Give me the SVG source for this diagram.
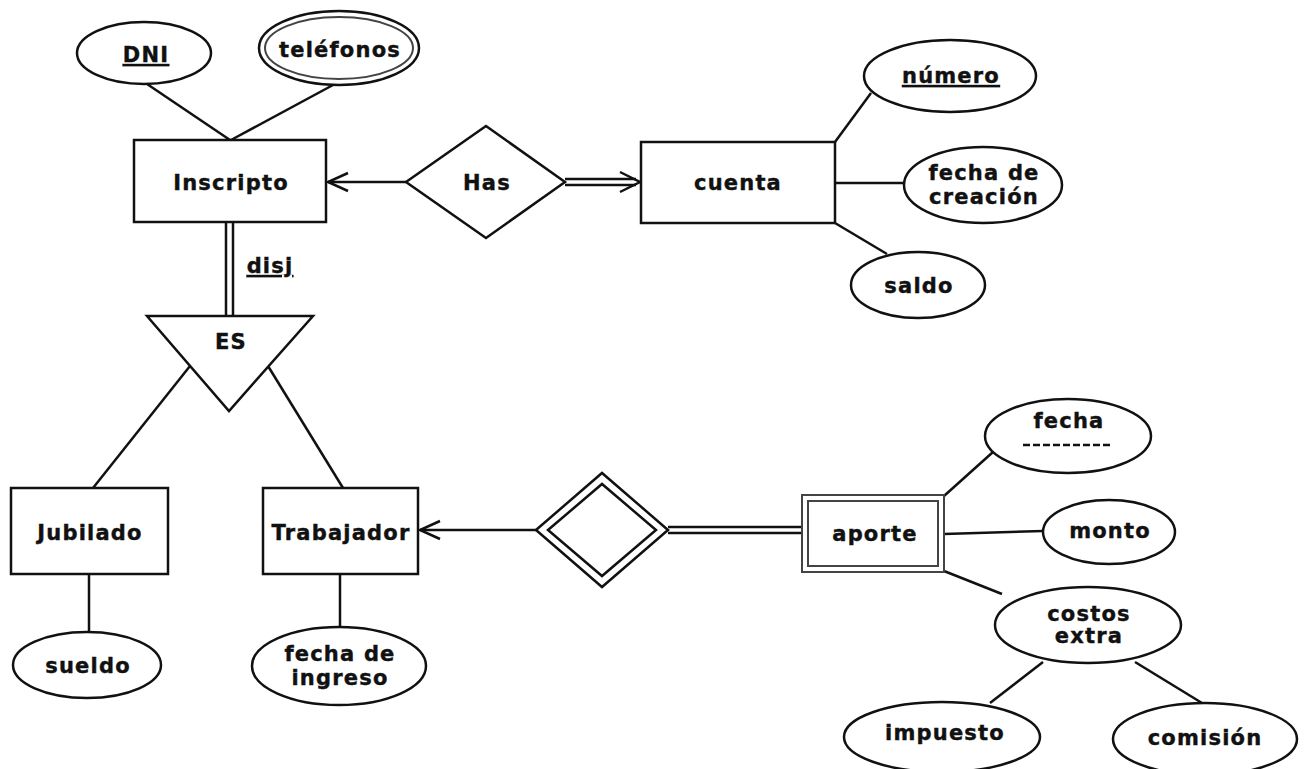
<svg xmlns="http://www.w3.org/2000/svg" width="1306" height="769" viewBox="0 0 1306 769">
<style>
.s{fill:#fff;stroke:#111;stroke-width:2.5}
.g{fill:none;stroke:#444;stroke-width:2}
.ln{fill:none;stroke:#111;stroke-width:2.5}
.arr{fill:none;stroke:#111;stroke-width:2.5;stroke-linejoin:miter}
.t{font-family:"DejaVu Sans",Verdana,sans-serif;font-weight:bold;font-size:21px;letter-spacing:1.2px;fill:#111;stroke:#111;stroke-width:0.4;text-anchor:middle}
.u{text-decoration:underline}
</style>
<rect width="1306" height="769" fill="#fff"/>
<g id="connectors">
  <path class="ln" d="M147,84 L230,140"/>
  <path class="ln" d="M333,85 L231,140"/>
  <path class="ln" d="M406,182 H328"/>
  <path class="arr" d="M348,173 L328,182 L348,191"/>
  <path class="ln" d="M565,179 H636 M565,185 H636"/>
  <path class="arr" d="M620,172 L640,182 L620,192"/>
  <path class="ln" d="M835,142 L871,93"/>
  <path class="ln" d="M835,183 H905"/>
  <path class="ln" d="M835,223 L887,254"/>
  <path class="ln" d="M226,222 V316 M233,222 V316"/>
  <path class="ln" d="M190,366 L93,488"/>
  <path class="ln" d="M268,366 L343,488"/>
  <path class="ln" d="M89,574 V632"/>
  <path class="ln" d="M340,574 V627"/>
  <path class="ln" d="M536,530 H420"/>
  <path class="arr" d="M440,521 L420,530 L440,539"/>
  <path class="ln" d="M668,527 H802 M668,533 H802"/>
  <path class="ln" d="M944,496 L993,452"/>
  <path class="ln" d="M944,534 L1043,531"/>
  <path class="ln" d="M944,571 L1002,594"/>
  <path class="ln" d="M1043,662 L990,703"/>
  <path class="ln" d="M1135,662 L1202,703"/>
</g>
<g id="DNI"><ellipse class="s" cx="144" cy="53" rx="67" ry="31"/><text class="t u" x="146" y="62">DNI</text></g>
<g id="telefonos"><ellipse class="s" cx="339" cy="48" rx="80" ry="37"/><ellipse class="g" cx="339" cy="48" rx="74" ry="31"/><text class="t" x="340" y="57">teléfonos</text></g>
<g id="Inscripto"><rect class="s" x="134" y="140" width="192" height="82"/><text class="t" x="231" y="190">Inscripto</text></g>
<g id="Has"><path class="s" d="M406,182 L486,126 L565,182 L486,238 Z"/><text class="t" x="487" y="190">Has</text></g>
<g id="cuenta"><rect class="s" x="641" y="142" width="194" height="81"/><text class="t" x="738" y="190">cuenta</text></g>
<g id="numero"><ellipse class="s" cx="950" cy="76" rx="86" ry="36"/><text class="t u" x="951" y="83">número</text></g>
<g id="fecha_creacion"><ellipse class="s" cx="983" cy="185" rx="79" ry="38"/><text class="t" x="984" y="180">fecha de</text><text class="t" x="984" y="204">creación</text></g>
<g id="saldo"><ellipse class="s" cx="918" cy="285" rx="67" ry="33"/><text class="t" x="919" y="293">saldo</text></g>
<g id="disj"><text class="t u" x="270" y="273">disj</text></g>
<g id="ES"><path class="s" d="M147,316 L313,316 L229,411 Z"/><text class="t" x="231" y="349">ES</text></g>
<g id="Jubilado"><rect class="s" x="11" y="488" width="157" height="86"/><text class="t" x="90" y="540">Jubilado</text></g>
<g id="Trabajador"><rect class="s" x="263" y="488" width="155" height="86"/><text class="t" x="341" y="540">Trabajador</text></g>
<g id="sueldo"><ellipse class="s" cx="87" cy="665" rx="74" ry="33"/><text class="t" x="88" y="673">sueldo</text></g>
<g id="fecha_ingreso"><ellipse class="s" cx="339" cy="666" rx="87" ry="39"/><text class="t" x="340" y="661">fecha de</text><text class="t" x="340" y="685">ingreso</text></g>
<g id="rel_debil"><path class="s" d="M536,530 L602,473 L668,530 L602,587 Z"/><path class="ln" d="M548,530 L602,484 L656,530 L602,576 Z"/></g>
<g id="aporte"><rect class="s" x="802" y="495" width="142" height="77" style="stroke:#444;stroke-width:2"/><rect class="g" x="808" y="501" width="130" height="65"/><text class="t" x="875" y="541">aporte</text></g>
<g id="fecha"><ellipse class="s" cx="1068" cy="436" rx="83" ry="37"/><text class="t" x="1069" y="428">fecha</text><path class="ln" d="M1023,445 H1112" style="stroke-dasharray:7,3;stroke-width:2.5"/></g>
<g id="monto"><ellipse class="s" cx="1109" cy="532" rx="66" ry="32"/><text class="t" x="1110" y="538">monto</text></g>
<g id="costos_extra"><ellipse class="s" cx="1088" cy="625" rx="93" ry="38"/><text class="t" x="1089" y="621">costos</text><text class="t" x="1089" y="643">extra</text></g>
<g id="impuesto"><ellipse class="s" cx="942" cy="737" rx="98" ry="35"/><text class="t" x="945" y="740">impuesto</text></g>
<g id="comision"><ellipse class="s" cx="1205" cy="739" rx="92" ry="36"/><text class="t" x="1205" y="745">comisión</text></g>
</svg>
